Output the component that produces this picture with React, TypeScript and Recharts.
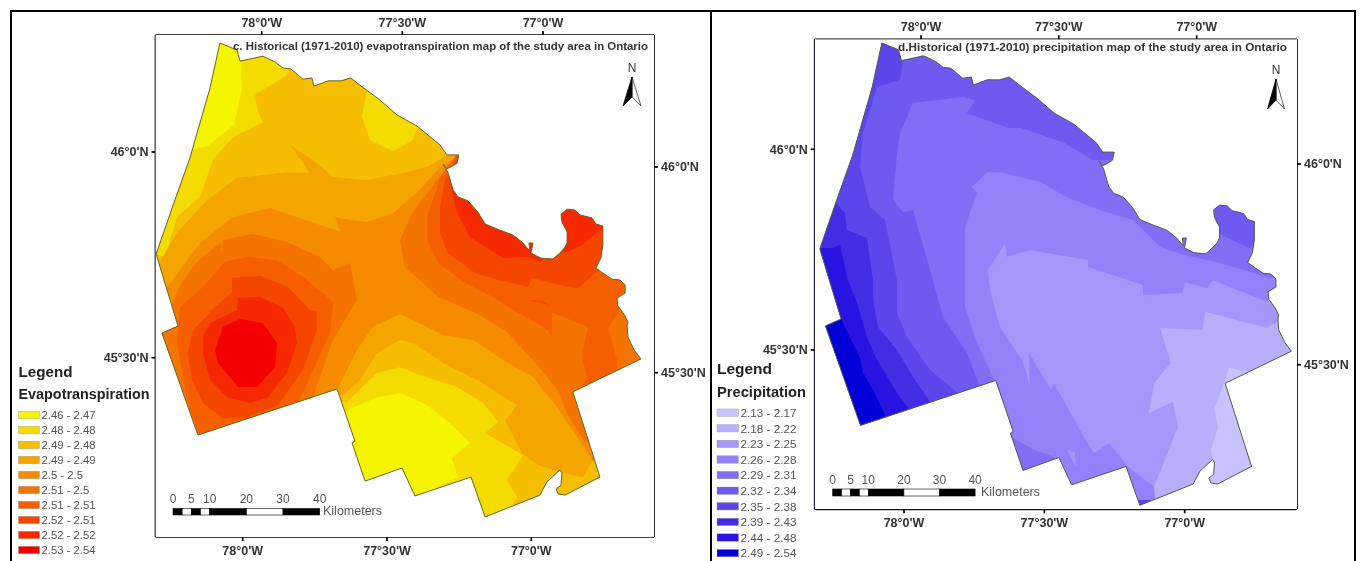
import React from 'react';
import { ScatterChart, Scatter, XAxis, YAxis } from 'recharts';

type P = [number, number];
const FONT = '"Liberation Sans", Arial, sans-serif';

// ---- study area outline, [lon, lat] ----
const outline: P[] = [
  [-78.079,46.265],[-78.020,46.248],[-78.009,46.221],[-77.975,46.226],[-77.930,46.233],[-77.888,46.219],[-77.860,46.204],[-77.833,46.202],
  [-77.791,46.177],[-77.760,46.180],[-77.753,46.160],[-77.704,46.173],[-77.659,46.173],[-77.625,46.180],[-77.604,46.168],[-77.566,46.148],
  [-77.524,46.126],[-77.465,46.090],[-77.396,46.063],[-77.316,46.017],[-77.292,45.993],[-77.251,45.993],[-77.257,45.973],[-77.278,45.964],
  [-77.292,45.959],[-77.306,45.971],[-77.289,45.951],[-77.271,45.908],[-77.254,45.891],[-77.219,45.881],[-77.185,45.854],[-77.160,45.825],
  [-77.119,45.813],[-77.063,45.798],[-77.029,45.779],[-77.005,45.759],[-77.008,45.779],[-76.994,45.779],[-77.001,45.754],[-76.966,45.742],
  [-76.925,45.740],[-76.897,45.757],[-76.883,45.769],[-76.876,45.779],[-76.876,45.806],[-76.894,45.830],[-76.897,45.849],[-76.876,45.861],
  [-76.849,45.859],[-76.831,45.847],[-76.790,45.840],[-76.776,45.825],[-76.752,45.820],[-76.752,45.774],[-76.759,45.742],[-76.776,45.718],
  [-76.752,45.706],[-76.720,45.691],[-76.693,45.689],[-76.675,45.677],[-76.675,45.657],[-76.703,45.645],[-76.700,45.626],[-76.679,45.606],
  [-76.665,45.587],[-76.668,45.577],[-76.665,45.550],[-76.644,45.519],[-76.620,45.497],[-76.856,45.417],[-76.762,45.210],[-76.883,45.166],
  [-76.907,45.169],[-76.914,45.181],[-76.897,45.190],[-76.894,45.220],[-76.901,45.227],[-76.932,45.207],[-76.946,45.198],[-76.970,45.166],
  [-77.160,45.113],[-77.209,45.210],[-77.403,45.164],[-77.448,45.232],[-77.576,45.200],[-77.621,45.293],[-77.611,45.297],[-77.673,45.424],
  [-78.155,45.312],[-78.280,45.560],[-78.224,45.577],[-78.300,45.752],[-78.231,45.891],[-78.183,45.985],[-78.113,46.156],
];

// ---- evapotranspiration classes ----
const etLabels = ['2.46 - 2.47','2.48 - 2.48','2.49 - 2.48','2.49 - 2.49','2.5 - 2.5','2.51 - 2.5','2.51 - 2.51','2.52 - 2.51','2.52 - 2.52','2.53 - 2.54'];
const etColors = ['#f5f500','#f5dc00','#f5be00','#f5a500','#f58c00','#f57300','#f55f00','#f54600','#f52800','#f50000'];

const etNW1: P[] = [[-78.027,46.260],[-77.829,46.224],[-77.847,46.187],[-77.957,46.139],[-77.950,46.102],[-77.930,46.073],[-78.034,46.036],[-78.103,45.981],[-78.148,45.891],[-78.228,45.842],[-78.269,45.745],[-78.293,45.750],[-78.293,46.005],[-78.148,46.272]];
const etNW0: P[] = [[-78.096,46.272],[-78.009,46.260],[-78.002,46.156],[-78.030,46.066],[-78.120,46.015],[-78.183,46.005],[-78.217,46.126]];
const etNBlob: P[] = [[-77.569,46.151],[-77.587,46.085],[-77.559,46.029],[-77.479,46.002],[-77.410,46.029],[-77.393,46.063],[-77.386,46.102],[-77.507,46.163]];
const etBand3: P[] = [[-78.287,45.733],[-78.228,45.803],[-78.124,45.883],[-78.020,45.937],[-77.847,45.951],[-77.767,45.949],[-77.836,46.017],[-77.756,45.981],[-77.687,45.939],[-77.569,45.932],[-77.445,45.949],[-77.358,45.964],[-77.292,45.993],[-77.212,46.017],[-76.589,46.017],[-76.589,45.074],[-78.293,45.074]];
const etBand4: P[] = [[-78.269,45.665],[-78.217,45.713],[-78.148,45.779],[-78.034,45.842],[-77.905,45.864],[-77.663,45.806],[-77.680,45.842],[-77.628,45.835],[-77.569,45.830],[-77.479,45.852],[-77.386,45.908],[-77.316,45.964],[-77.212,46.005],[-76.589,46.005],[-76.589,45.074],[-78.293,45.074],[-78.293,45.652]];
const etS3: P[] = [[-77.670,45.426],[-77.604,45.519],[-77.549,45.575],[-77.455,45.606],[-77.396,45.587],[-77.306,45.555],[-77.202,45.543],[-77.098,45.494],[-76.994,45.453],[-76.911,45.380],[-76.842,45.307],[-76.797,45.259],[-76.745,45.203],[-77.108,45.074],[-77.698,45.074],[-77.698,45.421]];
const etS2: P[] = [[-77.652,45.409],[-77.594,45.446],[-77.535,45.511],[-77.455,45.543],[-77.410,45.536],[-77.306,45.487],[-77.188,45.446],[-77.050,45.385],[-77.091,45.348],[-77.032,45.268],[-76.977,45.239],[-76.890,45.220],[-76.821,45.210],[-76.786,45.251],[-76.727,45.215],[-76.762,45.154],[-77.108,45.074],[-77.698,45.074],[-77.698,45.409]];
const etS1: P[] = [[-77.639,45.392],[-77.535,45.463],[-77.455,45.477],[-77.386,45.458],[-77.257,45.429],[-77.167,45.390],[-77.115,45.344],[-77.160,45.317],[-77.029,45.263],[-77.084,45.203],[-77.050,45.161],[-77.126,45.074],[-77.680,45.074],[-77.680,45.392]];
const etS0: P[] = [[-77.635,45.373],[-77.535,45.404],[-77.455,45.414],[-77.375,45.390],[-77.306,45.356],[-77.212,45.293],[-77.275,45.256],[-77.254,45.210],[-77.455,45.142],[-77.646,45.142],[-77.663,45.348]];
const etSW5: P[] = [[-78.245,45.628],[-78.217,45.677],[-78.158,45.733],[-78.079,45.779],[-78.072,45.757],[-78.068,45.786],[-77.964,45.801],[-77.847,45.781],[-77.732,45.745],[-77.687,45.713],[-77.628,45.730],[-77.604,45.640],[-77.687,45.543],[-77.749,45.421],[-77.767,45.361],[-78.183,45.288],[-78.293,45.543],[-78.269,45.616]];
const etSW6: P[] = [[-78.228,45.536],[-78.217,45.623],[-78.138,45.672],[-78.061,45.733],[-77.985,45.745],[-77.881,45.737],[-77.791,45.696],[-77.722,45.657],[-77.687,45.633],[-77.698,45.560],[-77.777,45.438],[-77.819,45.373],[-78.009,45.319],[-78.148,45.307],[-78.193,45.397]];
const etSW7: P[] = [[-78.190,45.511],[-78.172,45.567],[-78.096,45.623],[-78.037,45.660],[-78.037,45.694],[-77.940,45.699],[-77.843,45.672],[-77.767,45.616],[-77.743,45.611],[-77.743,45.567],[-77.791,45.470],[-77.878,45.385],[-77.985,45.356],[-78.068,45.353],[-78.138,45.390],[-78.176,45.446]];
const etSW8: P[] = [[-78.138,45.550],[-78.113,45.584],[-78.020,45.616],[-78.016,45.645],[-77.940,45.648],[-77.860,45.621],[-77.819,45.575],[-77.812,45.536],[-77.847,45.463],[-77.912,45.404],[-77.975,45.390],[-78.054,45.404],[-78.113,45.446],[-78.138,45.511]];
const etSW9: P[] = [[-78.096,45.519],[-78.068,45.575],[-78.009,45.594],[-77.930,45.584],[-77.881,45.536],[-77.888,45.477],[-77.950,45.429],[-78.016,45.429],[-78.086,45.487]];
const etNE5: P[] = [[-77.306,45.951],[-77.413,45.852],[-77.455,45.786],[-77.438,45.720],[-77.323,45.648],[-77.195,45.609],[-77.091,45.567],[-76.994,45.494],[-76.907,45.421],[-76.876,45.365],[-76.814,45.293],[-76.727,45.300],[-76.589,45.494],[-76.589,46.005],[-77.247,46.005]];
const etNE6: P[] = [[-77.316,45.937],[-77.361,45.842],[-77.361,45.786],[-77.323,45.730],[-77.230,45.682],[-77.136,45.648],[-77.046,45.609],[-76.942,45.567],[-76.928,45.550],[-76.928,45.609],[-76.804,45.575],[-76.824,45.502],[-76.807,45.453],[-76.838,45.409],[-76.703,45.465],[-76.703,45.494],[-76.734,45.575],[-76.710,45.596],[-76.675,45.640],[-76.589,45.665],[-76.589,46.005],[-77.247,46.005]];
const etNE7: P[] = [[-77.299,45.932],[-77.316,45.866],[-77.316,45.803],[-77.289,45.754],[-77.195,45.706],[-77.115,45.689],[-77.011,45.672],[-76.998,45.694],[-76.873,45.672],[-76.838,45.669],[-76.779,45.706],[-76.727,45.725],[-76.589,45.762],[-76.589,46.005],[-77.247,46.005]];
const etNE7b: P[] = [[-77.011,45.640],[-76.935,45.628],[-76.960,45.638]];
const etNE8a: P[] = [[-77.275,45.900],[-77.257,45.852],[-77.212,45.793],[-77.126,45.754],[-77.091,45.742],[-77.011,45.745],[-76.966,45.733],[-76.901,45.810],[-77.212,45.956],[-77.282,45.956]];
const etNE8b: P[] = [[-76.876,45.757],[-76.824,45.774],[-76.769,45.806],[-76.727,45.823],[-76.762,45.883],[-76.918,45.883],[-76.918,45.757]];

// ---- precipitation classes ----
const prLabels = ['2.13 - 2.17','2.18 - 2.22','2.23 - 2.25','2.26 - 2.28','2.29 - 2.31','2.32 - 2.34','2.35 - 2.38','2.39 - 2.43','2.44 - 2.48','2.49 - 2.54'];
const prColors = ['#c8c3ff','#b7affc','#a596fa','#9480f8','#826ef5','#6e5af0','#5a46eb','#412de4','#2814e1','#0000d7'];

const prD5: P[] = [[-78.004,46.222],[-78.014,46.173],[-78.096,46.155],[-78.146,46.041],[-78.157,45.956],[-78.121,45.856],[-78.068,45.824],[-78.025,45.674],[-78.025,45.592],[-77.989,45.532],[-77.907,45.450],[-77.811,45.395],[-77.800,45.301],[-77.658,45.126],[-76.614,45.126],[-76.614,46.267],[-78.004,46.267]];
const prD4: P[] = [[-77.968,46.115],[-77.790,46.130],[-77.747,46.123],[-77.776,46.090],[-77.629,46.053],[-77.583,46.053],[-77.430,46.016],[-77.327,45.973],[-77.266,45.973],[-77.124,45.924],[-76.892,45.810],[-76.874,45.789],[-76.767,45.752],[-76.743,45.780],[-76.714,45.787],[-76.614,45.774],[-76.614,45.126],[-77.694,45.126],[-77.729,45.408],[-77.776,45.493],[-77.861,45.582],[-77.897,45.674],[-77.968,45.849],[-78.004,45.844],[-78.039,45.874],[-78.025,45.991],[-78.014,46.041]];
const prD3: P[] = [[-77.758,45.906],[-77.704,45.943],[-77.658,45.943],[-77.515,45.919],[-77.416,45.879],[-77.302,45.849],[-77.184,45.824],[-77.088,45.757],[-77.006,45.737],[-76.874,45.717],[-76.732,45.687],[-76.707,45.682],[-76.614,45.674],[-76.614,45.126],[-77.409,45.126],[-77.466,45.234],[-77.537,45.251],[-77.658,45.301],[-77.676,45.423],[-77.740,45.517],[-77.783,45.607],[-77.783,45.806],[-77.740,45.891]];
const prD2: P[] = [[-77.109,45.159],[-77.202,45.209],[-77.270,45.268],[-77.323,45.243],[-77.359,45.283],[-77.466,45.418],[-77.476,45.400],[-77.555,45.493],[-77.551,45.413],[-77.580,45.475],[-77.658,45.557],[-77.694,45.650],[-77.701,45.699],[-77.640,45.767],[-77.633,45.732],[-77.551,45.749],[-77.344,45.724],[-77.344,45.707],[-77.148,45.662],[-77.148,45.637],[-77.009,45.642],[-76.999,45.669],[-76.920,45.654],[-76.899,45.674],[-76.707,45.620],[-76.696,45.630],[-76.614,45.650],[-76.614,45.126],[-77.052,45.126]];
const prD2b: P[] = [[-77.420,45.252],[-77.392,45.245],[-77.385,45.208]];
const prD1: P[] = [[-77.088,45.555],[-76.935,45.550],[-76.928,45.595],[-76.707,45.555],[-76.671,45.570],[-76.614,45.575],[-76.614,45.126],[-77.106,45.126],[-77.109,45.159],[-77.024,45.308],[-77.042,45.371],[-77.127,45.343],[-77.109,45.418],[-77.049,45.468]];
const prD0: P[] = [[-76.842,45.455],[-76.767,45.445],[-76.714,45.425],[-76.696,45.176],[-76.856,45.126],[-76.913,45.176],[-76.899,45.221],[-76.906,45.251],[-76.881,45.308],[-76.895,45.351],[-76.860,45.418]];
const prD7: P[] = [[-78.253,45.874],[-78.210,45.841],[-78.203,45.799],[-78.132,45.779],[-78.110,45.674],[-78.110,45.625],[-78.093,45.557],[-78.025,45.500],[-77.968,45.433],[-77.907,45.371],[-78.014,45.251],[-78.281,45.251],[-78.299,45.699],[-78.281,45.874]];
const prD8: P[] = [[-78.296,45.754],[-78.253,45.754],[-78.228,45.762],[-78.200,45.674],[-78.167,45.617],[-78.132,45.532],[-78.096,45.475],[-78.025,45.393],[-77.986,45.356],[-78.050,45.276],[-78.299,45.276],[-78.306,45.625]];
const prD9: P[] = [[-78.224,45.577],[-78.157,45.480],[-78.146,45.443],[-78.110,45.400],[-78.068,45.338],[-78.121,45.276],[-78.299,45.276],[-78.299,45.562]];

// ---- axis ticks and texts ----
const lonTicks = [-78, -77.5, -77];
const lonTickLabels = ["78°0'W", "77°30'W", "77°0'W"];
const latTicks = [46, 45.5];
const latTickLabels = ["46°0'N", "45°30'N"];
const scaleKmLabels = [0, 5, 10, 20, 30, 40];
const scaleKmBreaks = [0, 2.5, 5, 7.5, 10, 20, 30, 40];

const toPts = (a: P[]) => a.map(([lon, lat]) => ({ lon, lat }));
const fmtLon = (v: number) => lonTickLabels[lonTicks.indexOf(v)] ?? '';
const fmtLat = (v: number) => latTickLabels[latTicks.indexOf(v)] ?? '';

type Layer = { pts: P[]; color: string };

type PanelCfg = {
  left: number; width: number; margin: { top: number; right: number; bottom: number; left: number };
  xB: [number, number]; xT: [number, number]; yL: [number, number]; yR: [number, number];
  stroke: string; layers: Layer[];
};

const tickStyle = { fontSize: 12.5, fontWeight: 'bold' as const, fill: '#333', fontFamily: FONT };

function Poly({ pts, fill }: { pts: P[]; fill: string }) {
  return (
    <Scatter
      data={toPts(pts)}
      xAxisId="b"
      yAxisId="l"
      isAnimationActive={false}
      shape={() => <g />}
      line={{ fill, stroke: 'none' }}
      lineType="joint"
      lineJointType="linear"
      legendType="none"
    />
  );
}

function Panel({ cfg }: { cfg: PanelCfg }) {
  const [x0, x1] = cfg.xB;
  const [y0, y1] = cfg.yL;
  const frameDown: P[] = [[x0, y1], [x0, y0], [x1, y0], [x1, y1], [x0, y1]];
  const frameUp: P[] = [[x0, y1], [x1, y1], [x1, y0], [x0, y0]];
  const mask: P[] = [...outline, outline[0], ...frameDown, outline[0]];
  const closed: P[] = [...outline, outline[0]];
  const axisProps = { type: 'number' as const, allowDataOverflow: true, stroke: '#000', strokeWidth: 1.7, tickSize: 4, interval: 0 as const, tick: tickStyle };
  return (
    <div style={{ position: 'absolute', left: cfg.left, top: 0 }}>
      <ScatterChart width={cfg.width} height={561} margin={cfg.margin}>
        {Poly({ pts: frameUp, fill: cfg.layers[0].color })}
        {cfg.layers.slice(1).map((l) => Poly({ pts: l.pts, fill: l.color }))}
        {Poly({ pts: mask, fill: '#fff' })}
        <Scatter
          data={toPts(closed)}
          xAxisId="b"
          yAxisId="l"
          isAnimationActive={false}
          shape={() => <g />}
          line={{ fill: 'none', stroke: cfg.stroke, strokeWidth: 1 }}
          lineType="joint"
          lineJointType="linear"
          legendType="none"
        />
        <XAxis {...axisProps} xAxisId="b" dataKey="lon" orientation="bottom" height={25} domain={cfg.xB} ticks={lonTicks} tickFormatter={fmtLon} tickMargin={5} />
        <XAxis {...axisProps} xAxisId="t" dataKey="lon" orientation="top" height={25} domain={cfg.xT} ticks={lonTicks} tickFormatter={fmtLon} tickMargin={4} />
        <YAxis {...axisProps} yAxisId="l" dataKey="lat" orientation="left" width={50} domain={cfg.yL} ticks={latTicks} tickFormatter={fmtLat} tickMargin={3} />
        <YAxis {...axisProps} yAxisId="r" dataKey="lat" orientation="right" width={50} domain={cfg.yR} ticks={latTicks} tickFormatter={fmtLat} tickMargin={3} />
      </ScatterChart>
    </div>
  );
}

const etLayers: Layer[] = [
  { pts: [], color: etColors[2] },
  { pts: etNW1, color: etColors[1] }, { pts: etNW0, color: etColors[0] }, { pts: etNBlob, color: etColors[1] },
  { pts: etBand3, color: etColors[3] }, { pts: etBand4, color: etColors[4] },
  { pts: etS3, color: etColors[3] }, { pts: etS2, color: etColors[2] }, { pts: etS1, color: etColors[1] }, { pts: etS0, color: etColors[0] },
  { pts: etSW5, color: etColors[5] }, { pts: etSW6, color: etColors[6] }, { pts: etSW7, color: etColors[7] }, { pts: etSW8, color: etColors[8] }, { pts: etSW9, color: etColors[9] },
  { pts: etNE5, color: etColors[5] }, { pts: etNE6, color: etColors[6] }, { pts: etNE7, color: etColors[7] }, { pts: etNE7b, color: etColors[7] }, { pts: etNE8a, color: etColors[8] }, { pts: etNE8b, color: etColors[8] },
];
const prLayers: Layer[] = [
  { pts: [], color: prColors[6] },
  { pts: prD7, color: prColors[7] }, { pts: prD8, color: prColors[8] }, { pts: prD9, color: prColors[9] },
  { pts: prD5, color: prColors[5] }, { pts: prD4, color: prColors[4] }, { pts: prD3, color: prColors[3] }, { pts: prD2, color: prColors[2] }, { pts: prD2b, color: prColors[2] }, { pts: prD1, color: prColors[1] }, { pts: prD0, color: prColors[0] },
];

const panelC: PanelCfg = {
  left: 0, width: 711, margin: { top: 10, right: 7, bottom: -1, left: 105.5 },
  xB: [-78.3021, -76.5748], xT: [-78.3775, -76.6054], yL: [45.0642, 46.2844], yR: [45.1006, 46.3209],
  stroke: '#6a6320', layers: etLayers,
};
const panelD: PanelCfg = {
  left: 711, width: 650, margin: { top: 14.3, right: 14, bottom: 26.7, left: 53.7 },
  xB: [-78.3181, -76.6], xT: [-78.3856, -76.6362], yL: [45.1031, 46.274], yR: [45.1398, 46.3107],
  stroke: '#555', layers: prLayers,
};

type LegendCfg = { x: number; legendY: number; headY: number; legendW: number; head: string; headW: number; firstY: number; step: number; swW: number; labelSize: number; labels: string[]; colors: string[] };

function LegendBlock({ c }: { c: LegendCfg }) {
  return (
    <g fontFamily={FONT}>
      <text x={c.x} y={c.legendY} fontSize={15} fontWeight="bold" fill="#222" textLength={c.legendW} lengthAdjust="spacingAndGlyphs">Legend</text>
      <text x={c.x} y={c.headY} fontSize={14} fontWeight="bold" fill="#222" textLength={c.headW} lengthAdjust="spacingAndGlyphs">{c.head}</text>
      {c.labels.map((t, i) => (
        <g key={t + i}>
          <rect x={c.x} y={c.firstY + i * c.step - 3.7} width={c.swW} height={7.4} fill={c.colors[i]} stroke="#999" strokeWidth={0.4} />
          <text x={c.x + c.swW + 2} y={c.firstY + i * c.step + 4.3} fontSize={c.labelSize} fill="#555">{t}</text>
        </g>
      ))}
    </g>
  );
}

function ScaleBar({ x, pxKm, labelY, barY, barH, kmX, kmY, kmW }: { x: number; pxKm: number; labelY: number; barY: number; barH: number; kmX: number; kmY: number; kmW: number }) {
  return (
    <g fontFamily={FONT} fill="#555">
      {scaleKmLabels.map((k) => (
        <text key={k} x={x + k * pxKm} y={labelY} fontSize={12} textAnchor="middle">{k}</text>
      ))}
      {scaleKmBreaks.slice(0, -1).map((k, i) => (
        <rect key={k} x={x + k * pxKm} y={barY} width={(scaleKmBreaks[i + 1] - k) * pxKm} height={barH} fill={i % 2 === 0 ? '#000' : '#fff'} stroke="#000" strokeWidth={0.6} />
      ))}
      <text x={kmX} y={kmY} fontSize={12.5} textLength={kmW} lengthAdjust="spacingAndGlyphs">Kilometers</text>
    </g>
  );
}

function North({ x, nY, top, mid, bot, hw }: { x: number; nY: number; top: number; mid: number; bot: number; hw: number }) {
  return (
    <g>
      <text x={x} y={nY} fontSize={12} textAnchor="middle" fontFamily={FONT} fill="#333">N</text>
      <polygon points={`${x},${top} ${x + hw},${bot} ${x},${mid}`} fill="#fff" stroke="#333" strokeWidth={0.8} />
      <polygon points={`${x},${top} ${x - hw},${bot} ${x},${mid}`} fill="#000" stroke="#000" strokeWidth={0.8} />
    </g>
  );
}

export default function App() {
  return (
    <div style={{ position: 'absolute', left: 0, top: 0, width: 1361, height: 561, background: '#fff', overflow: 'hidden', filter: 'blur(0.4px)' }}>
      <Panel cfg={panelC} />
      <Panel cfg={panelD} />
      <svg width={1361} height={561} style={{ position: 'absolute', left: 0, top: 0, pointerEvents: 'none' }}>
        <path d="M11 561 V11 H1355 V561 M711 11 V561" fill="none" stroke="#000" strokeWidth={2} />
        <text x={233} y={50} fontFamily={FONT} fontSize={11} fontWeight="bold" fill="#333" textLength={415} lengthAdjust="spacingAndGlyphs">c. Historical (1971-2010) evapotranspiration map of the study area in Ontario</text>
        <text x={898} y={51} fontFamily={FONT} fontSize={11} fontWeight="bold" fill="#333" textLength={389} lengthAdjust="spacingAndGlyphs">d.Historical (1971-2010) precipitation map of the study area in Ontario</text>
        <LegendBlock c={{ x: 18.5, legendY: 377, headY: 399, legendW: 54, head: 'Evapotranspiration', headW: 131, firstY: 415, step: 15, swW: 21, labelSize: 11.3, labels: etLabels, colors: etColors }} />
        <LegendBlock c={{ x: 717, legendY: 373.5, headY: 397, legendW: 55, head: 'Precipitation', headW: 89, firstY: 412.7, step: 15.6, swW: 21.5, labelSize: 11.7, labels: prLabels, colors: prColors }} />
        <ScaleBar x={173} pxKm={3.667} labelY={502.5} barY={508.5} barH={6.5} kmX={323} kmY={515} kmW={59} />
        <ScaleBar x={832.7} pxKm={3.56} labelY={483.5} barY={489} barH={7} kmX={981} kmY={495.5} kmW={59} />
        <North x={632} nY={72} top={77} mid={97} bot={106} hw={9} />
        <North x={1276} nY={74} top={79} mid={100} bot={109} hw={8.5} />
      </svg>
    </div>
  );
}
